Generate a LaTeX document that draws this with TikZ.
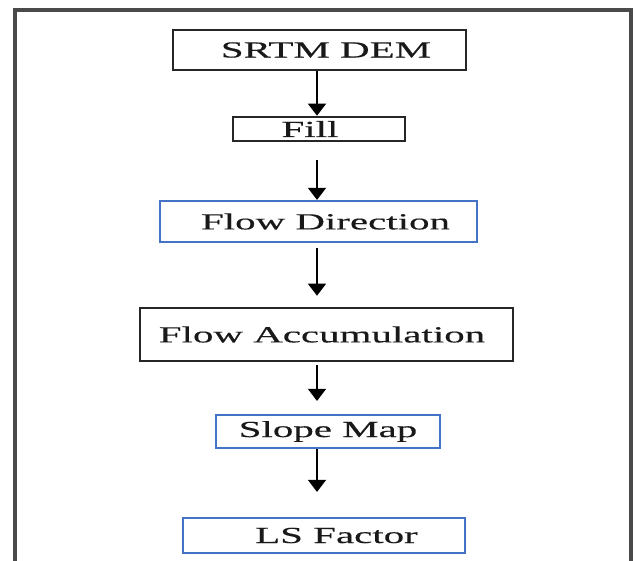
\documentclass[tikz,border=0pt]{standalone}
\usepackage{fontspec}
\setmainfont{Liberation Serif}[FakeStretch=1.78,FakeBold=0.4]
\usepackage{xcolor}
\usepackage{tikz}
\usetikzlibrary{arrows.meta,positioning}

\definecolor{boxblue}{HTML}{4472C4}
\definecolor{frameg}{HTML}{4A4A4A}

\tikzset{
  stepbox/.style={draw=black!85,line width=2.6pt,inner sep=0pt,
    font=\fontsize{23}{27}\selectfont,text=black!90},
  bluebox/.style={stepbox,draw=boxblue,line width=2.2pt},
  flow/.style={line width=1.3pt,-{Triangle[width=18pt,length=12pt]}}
}

\begin{document}
\begin{tikzpicture}[x=1pt,y=-1pt]
  \useasboundingbox (0,0) rectangle (636,560);
  % outer frame
  \draw[frameg,line width=4pt] (14.5,10) rectangle (630.5,620);
  % the steps, top to bottom (text sits a little off centre)
  \node[stepbox,minimum width=293pt,minimum height=40pt] (dem) at (319.5,50) {\hspace*{13pt}SRTM DEM};
  \node[stepbox,minimum width=172pt,minimum height=24pt] (fill) at (319,129) {Fill\hspace*{18pt}};
  \node[bluebox,minimum width=317pt,minimum height=41pt] (dir) at (318.5,221.5) {\hspace*{14pt}Flow Direction};
  \node[stepbox,minimum width=373pt,minimum height=53pt] (acc) at (326.5,334.5) {Flow Accumulation\hspace*{9pt}};
  \node[bluebox,minimum width=224pt,minimum height=33pt] (slope) at (328,431.5) {Slope Map};
  \node[bluebox,minimum width=282pt,minimum height=35pt] (ls) at (324,535.5) {\hspace*{25pt}LS Factor};
  % arrows run down one column
  \coordinate (ax) at (317,0);
  \draw[flow] (dem.south -| ax) -- (fill.north -| ax);
  \draw[flow,shorten <=18pt] (fill.south -| ax) -- (dir.north -| ax);
  \draw[flow,shorten <=5pt,shorten >=11pt] (dir.south -| ax) -- (acc.north -| ax);
  \draw[flow,shorten <=3pt,shorten >=13pt] (acc.south -| ax) -- (slope.north -| ax);
  \draw[flow,shorten >=25pt] (slope.south -| ax) -- (ls.north -| ax);
\end{tikzpicture}
\end{document}
